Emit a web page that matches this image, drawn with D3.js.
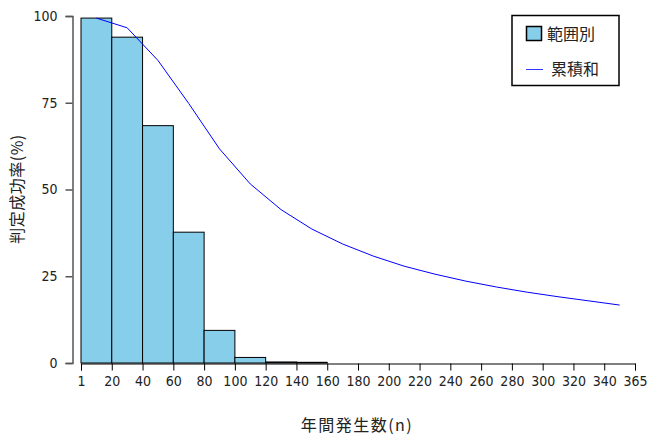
<!DOCTYPE html>
<html>
<head>
<meta charset="utf-8">
<script src="https://cdn.jsdelivr.net/npm/d3@7"></script>
<style>
  body { margin: 0; background: #fff; }
  svg text { font-family: "Noto Sans CJK JP", sans-serif; fill: #222; }
  .tick text { font-family: "Liberation Sans Narrow", "DejaVu Sans Condensed", sans-serif; }
</style>
</head>
<body>
<svg id="chart" width="648" height="439"></svg>
<script>
// x tick labels (interval boundaries)
const xTicks = ["1", "20", "40", "60", "80", "100", "120", "140", "160", "180", "200",
                "220", "240", "260", "280", "300", "320", "340", "365"]
// success rate per interval (%)
const rangeRate = [99.4, 93.9, 68.4, 37.7, 9.4, 1.6, 0.3, 0.2, 0, 0, 0, 0, 0, 0, 0, 0, 0, 0]
// cumulative rate (%)
const cumRate = [99.4, 96.6, 87.2, 74.8, 61.7, 51.6, 44.2, 38.6, 34.3, 30.8,
                 27.9, 25.6, 23.6, 21.9, 20.4, 19.1, 17.9, 16.7]
const yTicks = [0, 25, 50, 75, 100]
const legendLabels = ["範囲別", "累積和"]

const svg = d3.select("#chart")

//position of each boundary label, evenly spaced
const x = d3.scalePoint().domain(xTicks).range([81, 635])
const y = d3.scaleLinear().domain([0, 100]).range([363, 16])
const step = x.step()

//bars, one per interval
svg.append("g").selectAll("rect")
    .data(rangeRate.map((v, i) => ({v, i})).filter(d => d.v > 0))
    .join("rect")
    .attr("x", d => x(xTicks[d.i]))
    .attr("width", step)
    .attr("y", d => y(d.v))
    .attr("height", d => y(0) - y(d.v))
    .attr("fill", "#87ceeb")
    .attr("stroke", "#000")
    .attr("stroke-width", 1)

//cumulative line at interval midpoints
const line = d3.line()
    .x((d, i) => x(xTicks[i]) + step / 2)
    .y(d => y(d))
svg.append("path")
    .attr("d", line(cumRate))
    .attr("fill", "none")
    .attr("stroke", "#0000ff")
    .attr("stroke-width", 1)

//axes
const xAxis = svg.append("g")
    .attr("transform", "translate(0,363.5)")
    .call(d3.axisBottom(x).tickSize(7).tickPadding(6))
xAxis.select(".domain").attr("stroke", "#000")
xAxis.selectAll("text").attr("font-size", 14).attr("fill", "#222")

const yAxis = svg.append("g")
    .attr("transform", "translate(72.5,0)")
    .call(d3.axisLeft(y).tickValues(yTicks).tickSize(7).tickPadding(8))
yAxis.select(".domain").attr("stroke", "#555").attr("stroke-width", 1.5)
yAxis.selectAll(".tick line").attr("stroke", "#555").attr("stroke-width", 1.5)
yAxis.selectAll("text").attr("font-size", 14).attr("fill", "#222")

//axis titles
svg.append("text")
    .attr("x", 357).attr("y", 431)
    .attr("text-anchor", "middle")
    .attr("font-size", 16)
    .attr("letter-spacing", 1.5)
    .text("年間発生数(n)")

svg.append("text")
    .attr("transform", "translate(23,189) rotate(-90)")
    .attr("text-anchor", "middle")
    .attr("font-size", 16)
    .attr("letter-spacing", 0.5)
    .text("判定成功率(%)")

//legend
const lg = svg.append("g")
lg.append("rect")
    .attr("x", 512).attr("y", 15.5)
    .attr("width", 107).attr("height", 70)
    .attr("fill", "#fff").attr("stroke", "#000").attr("stroke-width", 1.5)
lg.append("rect")
    .attr("x", 526.5).attr("y", 26.5)
    .attr("width", 15).attr("height", 14)
    .attr("fill", "#87ceeb").attr("stroke", "#000").attr("stroke-width", 1.5)
lg.append("line")
    .attr("x1", 526).attr("x2", 543)
    .attr("y1", 69.5).attr("y2", 69.5)
    .attr("stroke", "#3333ff").attr("stroke-width", 1)
lg.selectAll("text.lab")
    .data(legendLabels)
    .join("text")
    .attr("class", "lab")
    .attr("x", (d, i) => i === 0 ? 547 : 551)
    .attr("y", (d, i) => i === 0 ? 40 : 75)
    .attr("font-size", 16)
    .text(d => d)
</script>
</body>
</html>
